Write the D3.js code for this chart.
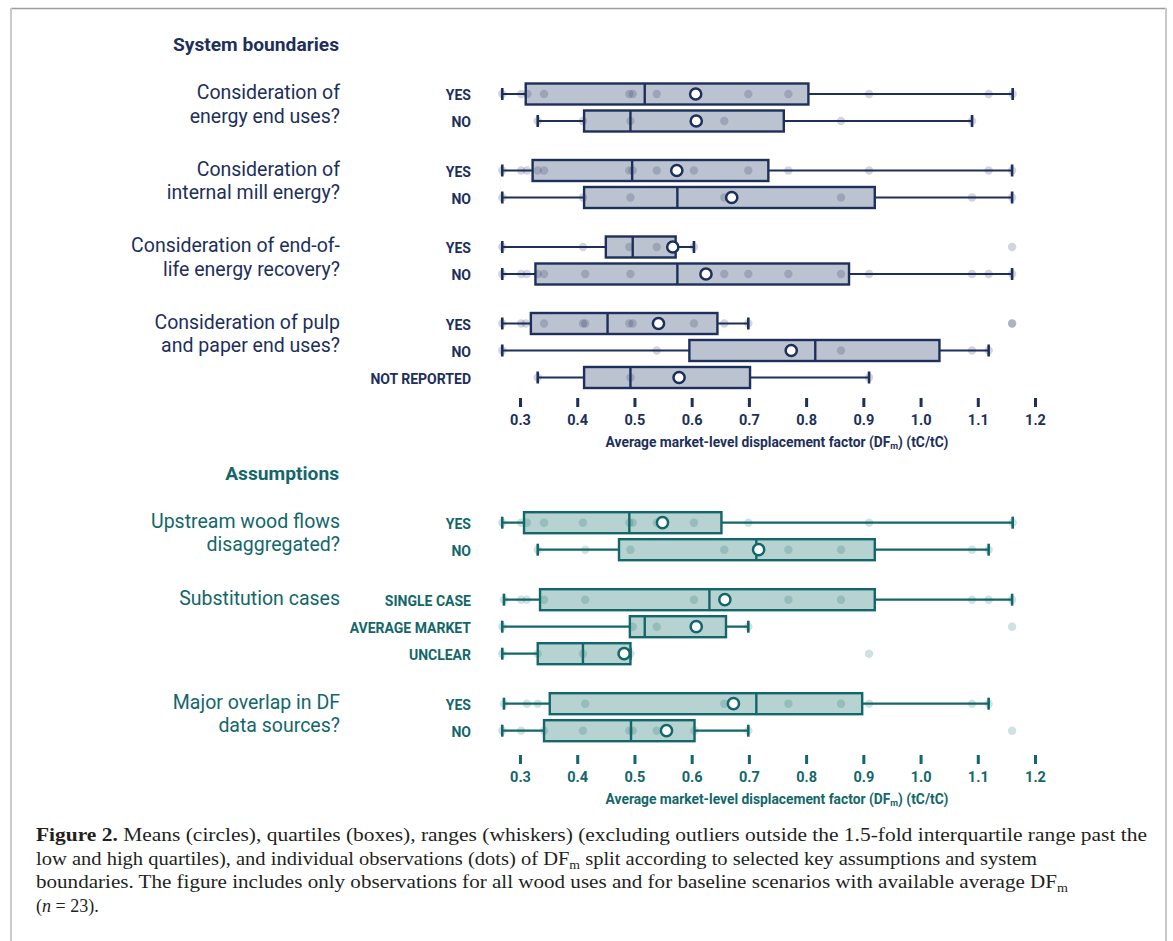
<!DOCTYPE html>
<html><head><meta charset="utf-8">
<script src="https://cdn.jsdelivr.net/npm/d3@7"></script>
<style>html,body{margin:0;padding:0;background:#fff;} svg{display:block;}</style>
</head><body>
<svg id="chart" width="1173" height="941"></svg>
<script>
// ---------- DATA ----------
const xTicks = [0.3, 0.4, 0.5, 0.6, 0.7, 0.8, 0.9, 1.0, 1.1, 1.2];

// System boundaries section
const sysTitle = "System boundaries";
const sysGroups = [
  ["Consideration of", "energy end uses?"],
  ["Consideration of", "internal mill energy?"],
  ["Consideration of end-of-", "life energy recovery?"],
  ["Consideration of pulp", "and paper end uses?"]
];
const sysRows = ["YES", "NO", "YES", "NO", "YES", "NO", "YES", "NO", "NOT REPORTED"];
const sysRowGroup = [0, 0, 1, 1, 2, 2, 3, 3, 3];
const sysWhiskerLow  = [0.269, 0.331, 0.269, 0.269, 0.269, 0.269, 0.269, 0.269, 0.331];
const sysQ1          = [0.310, 0.412, 0.322, 0.412, 0.450, 0.327, 0.319, 0.596, 0.412];
const sysMedian      = [0.518, 0.493, 0.496, 0.575, 0.497, 0.575, 0.453, 0.816, 0.493];
const sysQ3          = [0.804, 0.761, 0.734, 0.920, 0.572, 0.875, 0.645, 1.033, 0.702];
const sysWhiskerHigh = [1.161, 1.090, 1.160, 1.160, 0.604, 1.160, 0.699, 1.119, 0.910];
const sysMean        = [0.607, 0.608, 0.574, 0.670, 0.567, 0.625, 0.542, 0.774, 0.578];
const sysObs = [
  [0.269, 0.302, 0.313, 0.342, 0.491, 0.497, 0.539, 0.699, 0.769, 0.910, 1.119, 1.161],
  [0.331, 0.410, 0.493, 0.657, 0.861, 1.090],
  [0.269, 0.302, 0.312, 0.331, 0.342, 0.491, 0.497, 0.539, 0.604, 0.699, 0.769, 0.910, 1.119, 1.160],
  [0.269, 0.410, 0.493, 0.657, 0.861, 1.090, 1.160],
  [0.269, 0.410, 0.491, 0.539, 0.567, 0.604, 1.160],
  [0.269, 0.302, 0.312, 0.331, 0.342, 0.414, 0.493, 0.657, 0.699, 0.769, 0.861, 0.910, 1.090, 1.119, 1.160],
  [0.269, 0.302, 0.310, 0.342, 0.410, 0.414, 0.491, 0.497, 0.604, 0.657, 0.699, 1.160, 1.160],
  [0.269, 0.539, 0.774, 0.861, 1.090, 1.119],
  [0.331, 0.493, 0.910]
];

// Assumptions section
const asmTitle = "Assumptions";
const asmGroups = [
  ["Upstream wood flows", "disaggregated?"],
  ["Substitution cases"],
  ["Major overlap in DF", "data sources?"]
];
const asmRows = ["YES", "NO", "SINGLE CASE", "AVERAGE MARKET", "UNCLEAR", "YES", "NO"];
const asmRowGroup = [0, 0, 1, 1, 1, 2, 2];
const asmWhiskerLow  = [0.269, 0.331, 0.272, 0.269, 0.269, 0.272, 0.269];
const asmQ1          = [0.307, 0.473, 0.335, 0.492, 0.331, 0.352, 0.342];
const asmMedian      = [0.491, 0.713, 0.631, 0.518, 0.410, 0.713, 0.494];
const asmQ3          = [0.652, 0.920, 0.920, 0.660, 0.493, 0.898, 0.605];
const asmWhiskerHigh = [1.161, 1.119, 1.160, 0.699, 0.493, 1.119, 0.699];
const asmMean        = [0.549, 0.717, 0.658, 0.608, 0.482, 0.673, 0.556];
const asmObs = [
  [0.269, 0.302, 0.312, 0.342, 0.410, 0.491, 0.497, 0.539, 0.604, 0.699, 0.910, 1.161],
  [0.331, 0.414, 0.493, 0.657, 0.713, 0.769, 0.861, 1.090, 1.119],
  [0.272, 0.302, 0.312, 0.342, 0.414, 0.604, 0.769, 0.861, 1.090, 1.119, 1.160],
  [0.269, 0.497, 0.539, 0.699, 1.160],
  [0.269, 0.331, 0.410, 0.493, 0.910],
  [0.272, 0.312, 0.331, 0.414, 0.657, 0.769, 0.861, 0.910, 1.090, 1.119],
  [0.269, 0.302, 0.342, 0.410, 0.491, 0.497, 0.539, 0.605, 0.699, 1.160]
];

const axisTitleMain = "Average market-level displacement factor (DF";
const axisTitleSub = "m";
const axisTitleEnd = ") (tC/tC)";

const captionLines = [
  [{t:"Figure 2.", b:true}, {t:" Means (circles), quartiles (boxes), ranges (whiskers) (excluding outliers outside the 1.5-fold interquartile range past the"}],
  [{t:"low and high quartiles), and individual observations (dots) of DF"}, {t:"m", sub:true}, {t:" split according to selected key assumptions and system", after:true}],
  [{t:"boundaries. The figure includes only observations for all wood uses and for baseline scenarios with available average DF"}, {t:"m", sub:true}],
  [{t:"("}, {t:"n", i:true}, {t:" = 23)."}]
];

// ---------- DRAW ----------
const svg = d3.select("#chart");
const FONT = "Roboto, 'Noto Sans', sans-serif";

// frame
svg.append("line").attr("x1", 11).attr("x2", 1166).attr("y1", 8.5).attr("y2", 8.5).attr("stroke", "#9c9c9c").attr("stroke-width", 1.5);
svg.append("line").attr("x1", 11).attr("x2", 11).attr("y1", 8).attr("y2", 941).attr("stroke", "#c9c9c9").attr("stroke-width", 2);
svg.append("line").attr("x1", 1166).attr("x2", 1166).attr("y1", 8).attr("y2", 941).attr("stroke", "#c9c9c9").attr("stroke-width", 2);

const x = d3.scaleLinear().domain([0.3, 1.2]).range([520, 1035]);

function section(cfg) {
  const g = svg.append("g");
  const col = cfg.color;
  const n = cfg.rows.length;
  const slot = i => i + cfg.rowGroup[i] * cfg.gapRatio;
  const y = d3.scaleLinear().domain([0, 1]).range([cfg.top, cfg.top + cfg.pitch]);

  // section title
  g.append("text").attr("x", 339).attr("y", cfg.titleY).attr("text-anchor", "end")
    .attr("dominant-baseline", "central").attr("font-family", FONT).attr("font-weight", 700)
    .attr("font-size", 19.2).attr("fill", col).text(cfg.title);

  // group labels
  cfg.groups.forEach((lines, gi) => {
    const firstRow = cfg.rowGroup.indexOf(gi);
    const y0 = y(slot(firstRow));
    lines.forEach((ln, li) => {
      g.append("text").attr("x", 340).attr("y", y0 - 1.5 + li * 23.5).attr("text-anchor", "end")
        .attr("dominant-baseline", "central").attr("font-family", FONT).attr("font-weight", 400)
        .attr("font-size", 19.5).attr("fill", col).text(ln);
    });
  });

  for (let i = 0; i < n; i++) {
    const cy = y(slot(i));
    // row label
    g.append("text").attr("x", 471).attr("y", cy + 1).attr("text-anchor", "end")
      .attr("dominant-baseline", "central").attr("font-family", FONT).attr("font-weight", 700)
      .attr("font-size", 14).attr("fill", col).text(cfg.rows[i]);
    // whisker line
    g.append("line").attr("x1", x(cfg.wl[i])).attr("x2", x(cfg.wh[i])).attr("y1", cy).attr("y2", cy)
      .attr("stroke", col).attr("stroke-width", 2.2);
    // caps
    [cfg.wl[i], cfg.wh[i]].forEach(v => {
      g.append("line").attr("x1", x(v)).attr("x2", x(v)).attr("y1", cy - 6).attr("y2", cy + 6)
        .attr("stroke", col).attr("stroke-width", 2.6);
    });
    // box
    g.append("rect").attr("x", x(cfg.q1[i])).attr("y", cy - 10.5)
      .attr("width", x(cfg.q3[i]) - x(cfg.q1[i])).attr("height", 21)
      .attr("fill", cfg.fill).attr("stroke", col).attr("stroke-width", 2.4);
    // dots
    g.selectAll(null).data(cfg.obs[i]).enter().append("circle")
      .attr("cx", d => x(d)).attr("cy", cy).attr("r", 4.2)
      .attr("fill", col).attr("fill-opacity", 0.2);
    // median
    g.append("line").attr("x1", x(cfg.med[i])).attr("x2", x(cfg.med[i])).attr("y1", cy - 10.5).attr("y2", cy + 10.5)
      .attr("stroke", col).attr("stroke-width", 2.4);
    // mean
    g.append("circle").attr("cx", x(cfg.mean[i])).attr("cy", cy).attr("r", 5.6)
      .attr("fill", "#fff").attr("stroke", col).attr("stroke-width", 2.5);
  }

  // axis
  const axG = g.append("g").attr("transform", `translate(0,${cfg.axisY})`);
  const axis = d3.axisBottom(x).tickValues(xTicks).tickFormat(d3.format(".1f")).tickSize(9).tickPadding(8);
  axG.call(axis);
  axG.select(".domain").remove();
  axG.selectAll(".tick line").attr("stroke", col).attr("stroke-width", 3);
  axG.selectAll(".tick text").attr("font-family", FONT).attr("font-weight", 700).attr("font-size", 14.5)
    .attr("fill", col);

  const t = g.append("text").attr("x", 777).attr("y", cfg.axisY + 44).attr("text-anchor", "middle")
    .attr("dominant-baseline", "central").attr("font-family", FONT).attr("font-weight", 700)
    .attr("font-size", 13.8).attr("fill", col);
  t.append("tspan").text(axisTitleMain);
  t.append("tspan").attr("font-size", 9).attr("dy", 4).text(axisTitleSub);
  t.append("tspan").attr("dy", -4).text(axisTitleEnd);
}

section({
  title: sysTitle, titleY: 44, color: "#1d2f5a", fill: "#bcc3d0",
  groups: sysGroups, rows: sysRows, rowGroup: sysRowGroup,
  wl: sysWhiskerLow, q1: sysQ1, med: sysMedian, q3: sysQ3, wh: sysWhiskerHigh, mean: sysMean, obs: sysObs,
  top: 94, pitch: 27, gapRatio: 22.5 / 27, axisY: 398
});

section({
  title: asmTitle, titleY: 473, color: "#13676a", fill: "#b6d2d1",
  groups: asmGroups, rows: asmRows, rowGroup: asmRowGroup,
  wl: asmWhiskerLow, q1: asmQ1, med: asmMedian, q3: asmQ3, wh: asmWhiskerHigh, mean: asmMean, obs: asmObs,
  top: 522.7, pitch: 27, gapRatio: 23 / 27, axisY: 755
});

// caption
const capWidths = [1111, 1001, 1032, null];
captionLines.forEach((parts, li) => {
  const t = svg.append("text").attr("x", 36).attr("y", 841 + li * 23.5)
    .attr("font-family", "'Liberation Serif', 'DejaVu Serif', serif").attr("font-size", 18)
    .attr("fill", "#231f20");
  if (capWidths[li]) t.attr("textLength", capWidths[li]).attr("lengthAdjust", "spacingAndGlyphs");
  parts.forEach(p => {
    const s = t.append("tspan").text(p.t);
    if (p.b) s.attr("font-weight", 700);
    if (p.i) s.attr("font-style", "italic");
    if (p.sub) s.attr("font-size", 12).attr("dy", 4);
    if (p.after) s.attr("dy", -4);
  });
});
</script>
</body></html>
